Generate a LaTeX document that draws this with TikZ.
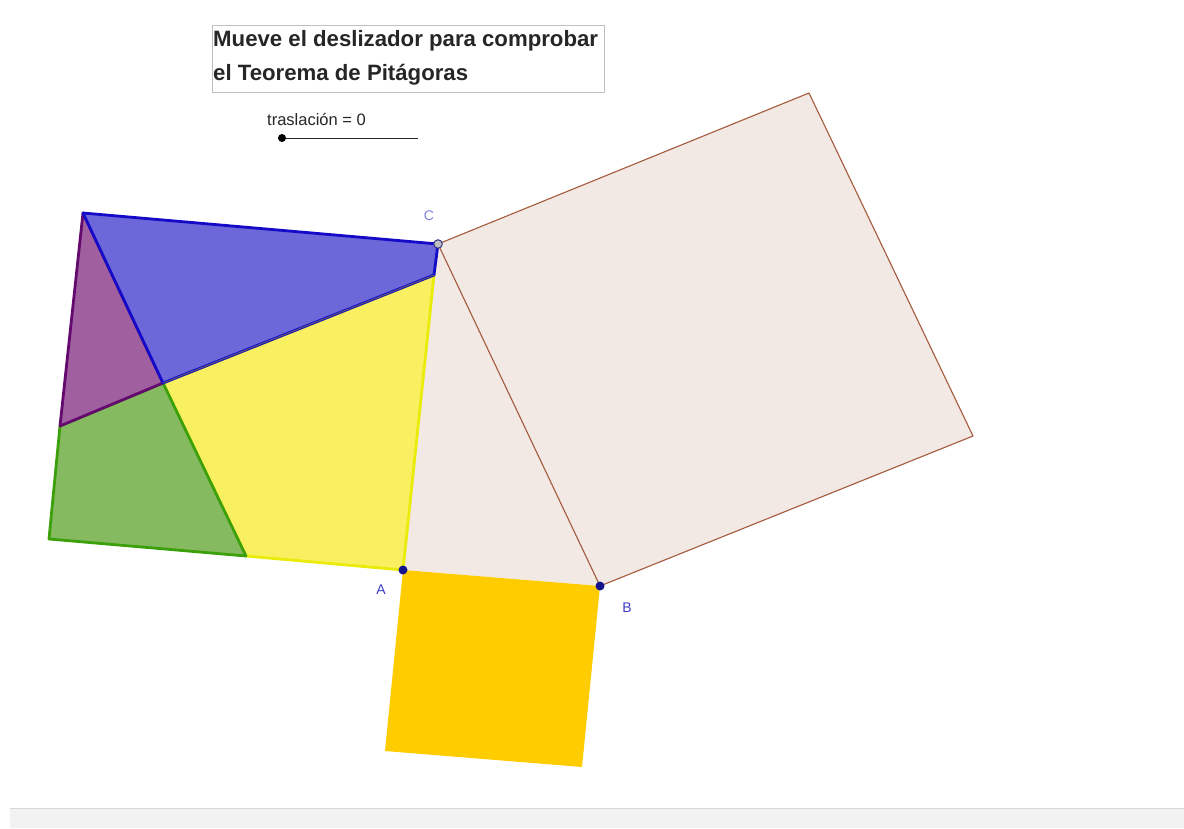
\documentclass[tikz,border=0pt]{standalone}
\usepackage{fontspec}
\setmainfont{Liberation Sans}
\definecolor{bluefill}{RGB}{108,104,217}
\definecolor{bluestroke}{RGB}{20,10,200}
\definecolor{purplefill}{RGB}{160,96,160}
\definecolor{purplestroke}{RGB}{100,10,110}
\definecolor{greenfill}{RGB}{134,186,96}
\definecolor{greenstroke}{RGB}{60,160,10}
\definecolor{yellowfill}{RGB}{248,240,96}
\definecolor{yellowstroke}{RGB}{235,235,10}
\definecolor{orangefill}{RGB}{255,204,0}
\definecolor{sqfill}{RGB}{242,233,228}
\definecolor{sqstroke}{RGB}{165,90,60}
\definecolor{ptblue}{RGB}{20,20,140}
\definecolor{lblblue}{RGB}{60,60,200}
\definecolor{lblc}{RGB}{130,130,225}
\definecolor{stripfill}{RGB}{242,242,242}
\definecolor{stripline}{RGB}{215,215,215}
\tikzset{
  piece/.style={line width=2.8pt, line join=round},
  ptdot/.style={circle, fill=ptblue, inner sep=0pt, minimum size=9pt},
  lbl/.style={font=\fontsize{14}{16}\selectfont, text=lblblue, inner sep=0pt},
  titletxt/.style={font=\fontsize{22.2}{26}\selectfont\bfseries, text=black!85, inner sep=0pt, anchor=base west},
}
\begin{document}
\begin{tikzpicture}[x=1pt,y=-1pt]
\useasboundingbox (0,0) rectangle (1184,828);
\fill[white] (0,0) rectangle (1184,828);
% bottom strip
\fill[stripfill] (10,808) rectangle (1184,828);
\draw[stripline, line width=1pt] (10,808) -- (1184,808);

% main points
\coordinate (A) at (403,570);
\coordinate (B) at (600,586);
\coordinate (C) at (438,244);
\coordinate (S1) at (809,93);
\coordinate (S2) at (973,436);
\coordinate (O1) at (582,767);
\coordinate (O2) at (385,751);
% pieces
\coordinate (P1) at (83,213);
\coordinate (P2) at (163,383);
\coordinate (P3) at (60,426);
\coordinate (Q) at (434,275);
\coordinate (R) at (246,556);
\coordinate (G) at (49,539);

% triangle and square on BC
\fill[sqfill] (A) -- (B) -- (C) -- cycle;
\filldraw[fill=sqfill, draw=sqstroke, line width=1.1pt, line join=round] (C) -- (S1) -- (S2) -- (B) -- cycle;
% square on AB
\fill[orangefill] (A) -- (B) -- (O1) -- (O2) -- cycle;

% pieces
\filldraw[piece, fill=yellowfill, draw=yellowstroke] (P2) -- (Q) -- (A) -- (R) -- cycle;
\filldraw[piece, fill=greenfill, draw=greenstroke] (P3) -- (P2) -- (R) -- (G) -- cycle;
\filldraw[piece, fill=purplefill, draw=purplestroke] (P1) -- (P2) -- (P3) -- cycle;
\filldraw[piece, fill=bluefill, draw=bluestroke] (P1) -- (C) -- (Q) -- (P2) -- cycle;
\draw[black!60, line width=0.8pt] (P2) -- (Q);

% points
\node[ptdot] (dA) at (A) {};
\node[ptdot] (dB) at (B) {};
\node[circle, fill=black!25, draw=ptblue!70!gray, line width=1pt, inner sep=0pt, minimum size=8.5pt] (dC) at (C) {};
\node[lbl] (lA) at (381,590) {A};
\node[lbl] (lB) at (627,608) {B};
\node[lbl, text=lblc] (lC) at (429,216) {C};

% title box
\draw[black!25, line width=0.8pt] (212,25) rectangle (604,92);
\node[titletxt] (t1) at (213,46) {Mueve el deslizador para comprobar};
\node[titletxt] (t2) at (213,80) {el Teorema de Pitágoras};

% slider
\node[font=\fontsize{16.5}{19}\selectfont, text=black!85, inner sep=0pt, anchor=base west] (sl) at (267,125) {traslación = 0};
\coordinate (s0) at (282,138);
\coordinate (s1) at (418,138);
\draw[black!85, line width=1pt] (s0) -- (s1);
\node[circle, fill=black, inner sep=0pt, minimum size=8pt] (sd) at (s0) {};
\end{tikzpicture}
\end{document}
